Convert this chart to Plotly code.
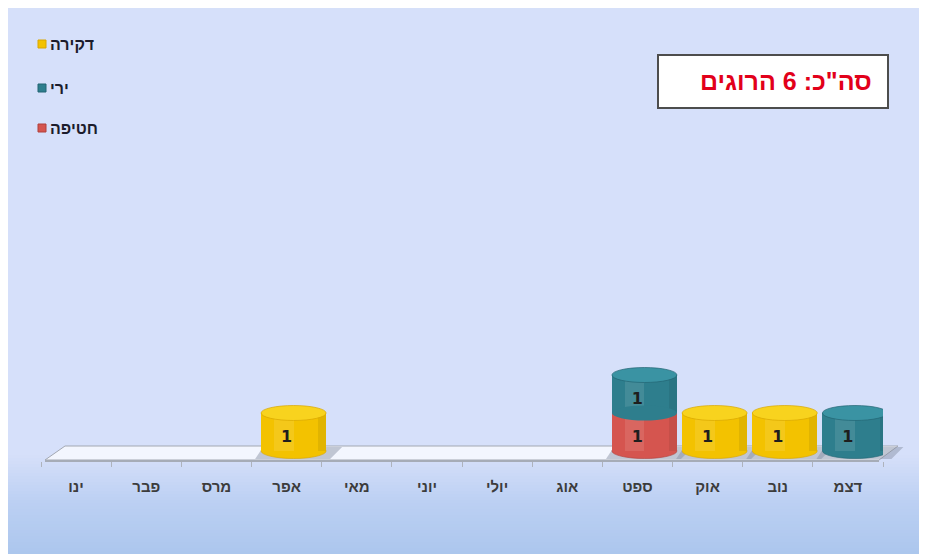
import plotly.graph_objects as go

# ---------------- data ----------------
months = ["ינו", "פבר", "מרס", "אפר", "מאי", "יוני", "יולי", "אוג", "ספט", "אוק", "נוב", "דצמ"]
kidnapping = [0, 0, 0, 0, 0, 0, 0, 0, 1, 0, 0, 0]   # חטיפה
shooting = [0, 0, 0, 0, 0, 0, 0, 0, 1, 0, 0, 1]     # ירי
stabbing = [0, 0, 0, 1, 0, 0, 0, 0, 0, 1, 1, 0]     # דקירה
series_names = ["חטיפה", "ירי", "דקירה"]            # stacking order, bottom to top
series_values = [kidnapping, shooting, stabbing]
legend_names = ["דקירה", "ירי", "חטיפה"]            # legend order, top to bottom
total_label = 'סה"כ: 6 הרוגים'

# ---------------- style ----------------
body_col = {"חטיפה": "#d5554f", "ירי": "#2e7e8d", "דקירה": "#f3c200"}
top_col = {"חטיפה": "#e2706a", "ירי": "#3a93a3", "דקירה": "#f8d31e"}
edge_col = {"חטיפה": "#b0413c", "ירי": "#226472", "דקירה": "#d9a600"}

PAGE = 8             # page offset of the figure (body margin)
W, H = 927 - PAGE, 554 - PAGE
L, R, T, B = 33, 44, 42, 93
PW, PH = W - L - R, H - T - B
UNIT = 38.0          # px per unit
BASE_PX = 451        # page row of y = 0
PLOT_BOTTOM = H - B + PAGE
Y_MIN = -(PLOT_BOTTOM - BASE_PX) / UNIT
Y_MAX = (BASE_PX - (T + PAGE)) / UNIT
CW = PW / len(months)
BW = 65 / CW
OFF = -BW / 2 + 0.1
RY = 7.5 / UNIT
FONT = "Liberation Sans, Arial, DejaVu Sans, sans-serif"


def xp(px):  # page px -> paper
    return (px - PAGE - L) / PW


def yp(py):  # page px -> paper
    return (H - B - (py - PAGE)) / PH


def mix(c1, c2, t):
    return "rgb(%d,%d,%d)" % tuple(round(a + (b - a) * t) for a, b in zip(c1, c2))


shapes = []
# background panel (uniform top, gradient toward the bottom)
top_rgb, mid_rgb, low_rgb, bot_rgb = (214, 224, 250), (213, 223, 249), (188, 208, 243), (171, 198, 237)
shapes.append(dict(type="rect", xref="paper", yref="paper", x0=xp(PAGE), x1=xp(940), y0=yp(10), y1=yp(456),
                   fillcolor=mix(top_rgb, mid_rgb, 0.5), line=dict(width=0), layer="below"))
py = 455
while py < 560:
    if py < 500:
        c = mix(mid_rgb, low_rgb, (py - 455) / 45)
    else:
        c = mix(low_rgb, bot_rgb, min(1, (py - 500) / 54))
    shapes.append(dict(type="rect", xref="paper", yref="paper", x0=xp(PAGE), x1=xp(940), y0=yp(py + 4), y1=yp(py),
                       fillcolor=c, line=dict(width=0), layer="below"))
    py += 3

# floor slab
floor_path = "M %f %f L %f %f L %f %f L %f %f Z" % (xp(45), yp(460), xp(879), yp(460), xp(898), yp(446), xp(65), yp(446))
shapes.append(dict(type="path", xref="paper", yref="paper", path=floor_path,
                   fillcolor="rgba(246,248,254,0.9)", line=dict(color="#a3a8b2", width=1), layer="below"))
shapes.append(dict(type="line", xref="paper", yref="paper", x0=xp(45), x1=xp(879), y0=yp(461), y1=yp(461),
                   line=dict(color="#a6acb7", width=2), layer="below"))

totals = [sum(v[i] for v in series_values) for i in range(len(months))]

# shadows on the floor
for i, tot in enumerate(totals):
    if tot > 0:
        left = PAGE + L + (i + 0.5 + OFF) * CW
        right = left + BW * CW
        p = "M %f %f L %f %f L %f %f L %f %f Z" % (xp(left - 6), yp(459), xp(right + 4), yp(459),
                                                    xp(right + 16), yp(447), xp(left + 2), yp(447))
        shapes.append(dict(type="path", xref="paper", yref="paper", path=p,
                           fillcolor="rgba(130,140,160,0.45)", line=dict(width=0), layer="below"))

# cylinder ellipses (bottom arcs)
bases = []
running = [0] * len(months)
for name, vals in zip(series_names, series_values):
    bases.append(list(running))
    for i, v in enumerate(vals):
        if v > 0:
            b = running[i]
            shapes.append(dict(type="circle", xref="x", yref="y", x0=i + OFF, x1=i + OFF + BW,
                               y0=b - RY, y1=b + RY, fillcolor=body_col[name],
                               line=dict(color=edge_col[name], width=0.6 if b == 0 else 0),
                               layer="below" if b == 0 else "above"))
    running = [a + b for a, b in zip(running, vals)]

# cylinder tops
for i, tot in enumerate(totals):
    if tot > 0:
        top_name = [n for n, v in zip(series_names, series_values) if v[i] > 0][-1]
        shapes.append(dict(type="circle", xref="x", yref="y", x0=i + OFF, x1=i + OFF + BW,
                           y0=tot - RY, y1=tot + RY, fillcolor=top_col[top_name],
                           line=dict(color=edge_col[top_name], width=0.7), layer="above"))

# total box
shapes.append(dict(type="rect", xref="paper", yref="paper", x0=xp(658), x1=xp(888), y0=yp(108), y1=yp(55),
                   fillcolor="white", line=dict(color="#4d4d4d", width=2)))

# legend squares
legend_sq = {"דקירה": 44, "ירי": 88, "חטיפה": 128}
for name in legend_names:
    cy = legend_sq[name]
    shapes.append(dict(type="rect", xref="paper", yref="paper", x0=xp(38), x1=xp(46), y0=yp(cy + 4), y1=yp(cy - 4),
                       fillcolor=body_col[name], line=dict(color=edge_col[name], width=1)))

fig = go.Figure()
for name, vals, base in zip(series_names, series_values, bases):
    fig.add_trace(go.Bar(x=months, y=vals, base=base, width=BW, offset=OFF, name=name,
                         marker=dict(color=body_col[name], line=dict(width=0)), showlegend=False,
                         hoverinfo="skip"))
# cylinder shading
fig.add_trace(go.Bar(x=months, y=totals, base=0, width=BW * 0.30, offset=OFF + BW * 0.2,
                     marker=dict(color="rgba(255,255,255,0.10)", line=dict(width=0)), showlegend=False,
                     hoverinfo="skip"))
fig.add_trace(go.Bar(x=months, y=totals, base=0, width=BW * 0.12, offset=OFF + BW * 0.88,
                     marker=dict(color="rgba(0,0,0,0.07)", line=dict(width=0)), showlegend=False,
                     hoverinfo="skip"))

# value labels
lx, ly, lt = [], [], []
for vals, base in zip(series_values, bases):
    for i, v in enumerate(vals):
        if v > 0:
            lx.append(months[i])
            ly.append(base[i] + v / 2 - 0.15)
            lt.append(str(v))
fig.add_trace(go.Scatter(x=lx, y=ly, text=lt, mode="text", showlegend=False, hoverinfo="skip",
                         textfont=dict(family="DejaVu Sans, sans-serif", size=16, color="#1e1e1e",
                                       weight="bold")))

annotations = [dict(xref="paper", yref="paper", x=xp(874), y=yp(81), xanchor="right", yanchor="middle",
                    text=total_label, showarrow=False,
                    font=dict(family=FONT, size=25, color="#e2001a", weight="bold"))]
for name in legend_names:
    annotations.append(dict(xref="paper", yref="paper", x=xp(48), y=yp(legend_sq[name]), xanchor="left",
                            yanchor="middle", text=name, showarrow=False,
                            font=dict(family=FONT, size=16, color="#1c1c2c", weight="bold")))

fig.update_layout(
    width=W, height=H,
    margin=dict(l=L, r=R, t=T, b=B, pad=0),
    paper_bgcolor="#d6e0f9", plot_bgcolor="rgba(0,0,0,0)",
    barmode="overlay", bargap=0,
    shapes=shapes, annotations=annotations,
    hovermode=False,
    xaxis=dict(type="category", categoryorder="array", categoryarray=months, range=[-0.5, len(months) - 0.5],
               showgrid=False, zeroline=False, showline=False, ticks="outside", tickson="boundaries",
               ticklen=5, tickcolor="#aeb3bd", ticklabelstandoff=15, fixedrange=True,
               tickfont=dict(family=FONT, size=15, color="#3c3c3c", weight="bold")),
    yaxis=dict(range=[Y_MIN, Y_MAX], visible=False, fixedrange=True),
)

fig.write_html("out.html")
